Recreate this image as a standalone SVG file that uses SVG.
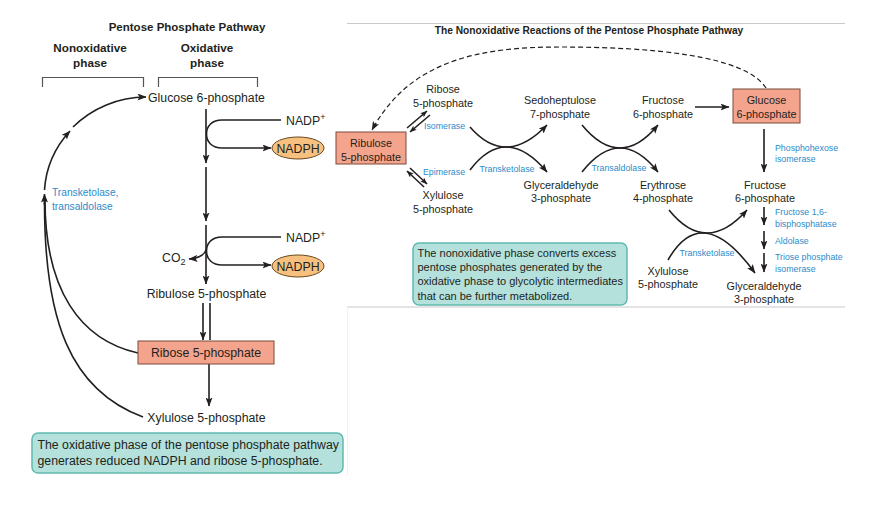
<svg xmlns="http://www.w3.org/2000/svg" width="879" height="518" viewBox="0 0 879 518">
<defs>
<marker id="ah" viewBox="0 0 9 7" refX="8.5" refY="3.5" markerWidth="9" markerHeight="7" markerUnits="userSpaceOnUse" orient="auto-start-reverse">
<path d="M0,0 L9,3.5 L0,7 L2,3.5 z" fill="#231f20"/>
</marker>
<marker id="ahs" viewBox="0 0 9 7" refX="8.5" refY="3.5" markerWidth="7" markerHeight="5.5" markerUnits="userSpaceOnUse" orient="auto-start-reverse">
<path d="M0,0 L9,3.5 L0,7 L2,3.5 z" fill="#231f20"/>
</marker>
</defs>
<style>
text{font-family:"Liberation Sans",Arial,sans-serif;fill:#231f20}
.t{font-size:12.3px}
.r{font-size:10.8px;text-anchor:middle}
.c{text-anchor:middle}
.b{font-weight:bold}
.bl{fill:#2d8bc9;font-size:8.8px}
.bl2{fill:#2d8bc9;font-size:10.2px}
.ln{fill:none;stroke:#231f20;stroke-width:1.6}
.la{fill:none;stroke:#231f20;stroke-width:1.6;marker-end:url(#ah)}
.box{fill:#f4a48c;stroke:#7b4a3c;stroke-width:1}
.nad{fill:#f7c07f;stroke:#6b4a1e;stroke-width:1}
.note{fill:#b4e1dc;stroke:#62b9b0;stroke-width:1.5}
.gray{stroke:#c9c9c9;stroke-width:1;fill:none}
</style>
<rect width="879" height="518" fill="#ffffff"/>

<!-- frame lines -->
<g id="frame">
<path class="gray" d="M347,23.5 H845"/>
<path class="gray" d="M347,307 H845"/>
<path d="M347.5,307 V475" stroke="#f0f0f0" stroke-width="1"/>
</g>

<!-- LEFT PANEL -->
<g id="left-titles">
<text class="c b" x="187" y="31" font-size="11.5">Pentose Phosphate Pathway</text>
<text class="c b" x="90" y="52" font-size="11.7">Nonoxidative</text>
<text class="c b" x="90" y="67" font-size="11.7">phase</text>
<text class="c b" x="207" y="52" font-size="11.7">Oxidative</text>
<text class="c b" x="207" y="67" font-size="11.7">phase</text>
<path d="M42.5,87 V77.5 H143.5 V87 M158.5,87 V77.5 H257.5 V87" fill="none" stroke="#555" stroke-width="1.2"/>
</g>

<g id="connectors-left">
<path class="la" d="M206,109 V163"/>
<path class="la" d="M206,167 V221"/>
<path class="la" d="M206,225 V284"/>
<path class="la" d="M281,120 H222 C212,120 206.5,126 206.5,134 C206.5,142 212,148 222,148 H271"/>
<path class="la" d="M281,237 H222 C212,237 206.5,243 206.5,251 C206.5,259 212,265 222,265 H271"/>
<path class="la" d="M206,250 Q203,258 189,259"/>
<path class="la" d="M203,303 V340"/>
<path class="ln" d="M210,303 V340"/>
<path class="la" d="M209,364 V406"/>
<path class="ln" d="M138,353 C80,340 45,290 45,200"/>
<path class="ln" d="M143,417 C70,390 44,320 44.5,200"/>
<path class="la" d="M44.5,205 V194"/>
<path class="la" d="M44.5,190 A102,98 0 0 1 70,131"/>
<path class="la" d="M73,127 A102,98 0 0 1 146,97"/>
</g>

<g id="glucose6p-left"><text class="t c" x="206.5" y="101.5">Glucose 6-phosphate</text></g>
<g id="nadp1"><text class="t" x="286" y="125">NADP<tspan font-size="9" dy="-5">+</tspan></text></g>
<g id="nadph1"><ellipse class="nad" cx="298" cy="148" rx="26" ry="11"/><text class="t c" x="298" y="152.5">NADPH</text></g>
<g id="nadp2"><text class="t" x="286" y="242">NADP<tspan font-size="9" dy="-5">+</tspan></text></g>
<g id="co2"><text class="t" x="162" y="262">CO<tspan font-size="9" dy="3">2</tspan></text></g>
<g id="nadph2"><ellipse class="nad" cx="298" cy="266" rx="26" ry="11"/><text class="t c" x="298" y="270.5">NADPH</text></g>
<g id="ribulose5p-left"><text class="t c" x="206.5" y="297.5">Ribulose 5-phosphate</text></g>
<g id="ribose5p-left"><rect class="box" x="138" y="341" width="136" height="23"/><text class="t c" x="206" y="357">Ribose 5-phosphate</text></g>
<g id="xylulose5p-left"><text class="t c" x="206.5" y="421.5">Xylulose 5-phosphate</text></g>
<g id="enzyme-left"><text class="bl2" x="52" y="196">Transketolase,</text><text class="bl2" x="52" y="209.5">transaldolase</text></g>
<g id="note-left">
<rect class="note" x="32" y="433" width="311" height="40" rx="6"/>
<text class="t" x="37.5" y="449">The oxidative phase of the pentose phosphate pathway</text>
<text class="t" x="37.5" y="465">generates reduced NADPH and ribose 5-phosphate.</text>
</g>

<!-- RIGHT PANEL -->
<g id="right-title"><text class="c b" x="589" y="34" font-size="10.2">The Nonoxidative Reactions of the Pentose Phosphate Pathway</text></g>

<g id="connectors-right">
<path d="M766,88 C745,55 650,47 560,47 C480,47 410,60 372,130" fill="none" stroke="#231f20" stroke-width="1.2" stroke-dasharray="5,3" marker-end="url(#ah)"/>
<path class="ln" stroke-width="1.3" d="M407,128 L427,111" marker-end="url(#ahs)"/>
<path class="ln" stroke-width="1.3" d="M410,132 L430,115" marker-start="url(#ahs)"/>
<path class="ln" stroke-width="1.3" d="M410,168 L427,184" marker-end="url(#ahs)"/>
<path class="ln" stroke-width="1.3" d="M407,171 L424,187" marker-start="url(#ahs)"/>
<path class="la" d="M470,127 Q505.5,168 547,125"/>
<path class="la" d="M470,170 Q505.5,123 547,172"/>
<path class="la" d="M582,125 Q620,171 658,125"/>
<path class="la" d="M582,172 Q620,124 658,172"/>
<path class="la" d="M669,210 Q706,256 747,210"/>
<path class="la" d="M668,260 Q702,200 755,273"/>
<path class="la" d="M695,107 H729"/>
<path class="la" d="M764,129 V172"/>
<path class="la" d="M764,207 V225"/>
<path class="la" d="M764,231 V249"/>
<path class="la" d="M764,253 V272"/>
</g>

<g id="ribulose5p-right"><rect class="box" x="336" y="132" width="70" height="32"/><text class="r" x="371" y="147">Ribulose</text><text class="r" x="371" y="161">5-phosphate</text></g>
<g id="ribose5p-right"><text class="r" x="443" y="93">Ribose</text><text class="r" x="443" y="107">5-phosphate</text></g>
<g id="xylulose5p-right1"><text class="r" x="443" y="199">Xylulose</text><text class="r" x="443" y="213">5-phosphate</text></g>
<g id="sedoheptulose7p"><text class="r" x="560" y="104">Sedoheptulose</text><text class="r" x="560" y="118">7-phosphate</text></g>
<g id="glyceraldehyde3p-1"><text class="r" x="561" y="189">Glyceraldehyde</text><text class="r" x="561" y="202">3-phosphate</text></g>
<g id="fructose6p-1"><text class="r" x="663" y="104">Fructose</text><text class="r" x="663" y="118">6-phosphate</text></g>
<g id="erythrose4p"><text class="r" x="663" y="189">Erythrose</text><text class="r" x="663" y="202">4-phosphate</text></g>
<g id="glucose6p-right"><rect class="box" x="733" y="89" width="67" height="34"/><text class="r" x="766.5" y="104">Glucose</text><text class="r" x="766.5" y="117.5">6-phosphate</text></g>
<g id="fructose6p-2"><text class="r" x="765" y="189">Fructose</text><text class="r" x="765" y="202">6-phosphate</text></g>
<g id="xylulose5p-right2"><text class="r" x="668" y="275">Xylulose</text><text class="r" x="668" y="288">5-phosphate</text></g>
<g id="glyceraldehyde3p-2"><text class="r" x="764" y="290">Glyceraldehyde</text><text class="r" x="764" y="303">3-phosphate</text></g>

<g id="enzymes-right">
<text class="bl" x="424" y="129">Isomerase</text>
<text class="bl" x="423" y="175">Epimerase</text>
<text class="bl" x="507" y="172" text-anchor="middle">Transketolase</text>
<text class="bl" x="619" y="171" text-anchor="middle">Transaldolase</text>
<text class="bl" x="775" y="151">Phosphohexose</text>
<text class="bl" x="775" y="162">isomerase</text>
<text class="bl" x="775" y="215">Fructose 1,6-</text>
<text class="bl" x="775" y="227">bisphosphatase</text>
<text class="bl" x="775" y="244">Aldolase</text>
<text class="bl" x="775" y="260">Triose phosphate</text>
<text class="bl" x="775" y="272">isomerase</text>
<text class="bl" x="707" y="256" text-anchor="middle">Transketolase</text>
</g>

<g id="note-right">
<rect class="note" x="413" y="243" width="214" height="62" rx="6"/>
<text x="417.5" y="257" font-size="11">The nonoxidative phase converts excess</text>
<text x="417.5" y="271" font-size="11">pentose phosphates generated by the</text>
<text x="417.5" y="285" font-size="11">oxidative phase to glycolytic intermediates</text>
<text x="417.5" y="299.5" font-size="11">that can be further metabolized.</text>
</g>
</svg>
